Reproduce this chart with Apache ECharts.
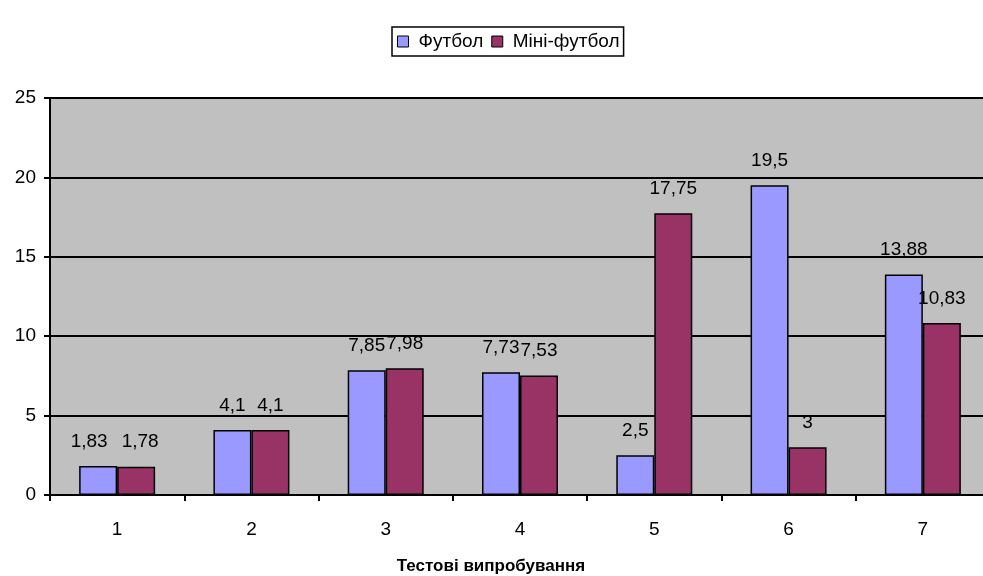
<!DOCTYPE html>
<html>
<head>
<meta charset="utf-8">
<script src="https://cdn.jsdelivr.net/npm/echarts@6/dist/echarts.min.js"></script>
<style>
html, body { margin: 0; padding: 0; background: #fff; }
#main { width: 983px; height: 576px; }
</style>
</head>
<body>
<div id="main"></div>
<script>
var categories = ['1', '2', '3', '4', '5', '6', '7']
var futbol = [1.83, 4.1, 7.85, 7.73, 2.5, 19.5, 13.88]
var miniFutbol = [1.78, 4.1, 7.98, 7.53, 17.75, 3, 10.83]
var yTicks = [0, 5, 10, 15, 20, 25]

var font = '"Liberation Sans", Arial, sans-serif'
var chart = echarts.init(document.getElementById('main'))

function fmt(v) {
    return String(v).replace('.', ',')
}

function labelCfg() {
    return {
        show: true,
        position: 'top',
        distance: 15,
        color: '#000',
        fontFamily: font,
        fontSize: 19,
        formatter: function(p) { return fmt(p.value) }
    }
}

var option = {
    animation: false,
    backgroundColor: '#fff',
    legend: {
        left: 392,
        top: 27,
        padding: [5, 4, 5, 5],
        borderColor: '#000',
        borderWidth: 1.5,
        itemWidth: 11,
        itemHeight: 11,
        itemGap: 8,
        icon: 'rect',
        itemStyle: { borderColor: '#000', borderWidth: 1 },
        textStyle: {
            fontFamily: font, fontSize: 19, color: '#000',
            rich: {
                a: { fontFamily: font, fontSize: 19, width: 84, padding: [0, 0, 0, 5] },
                b: { fontFamily: font, fontSize: 19, width: 132, padding: [0, 0, 0, 5] }
            }
        },
        formatter: function(name) {
            return name === 'Футбол' ? '{a|' + name + '}' : '{b|' + name + '}'
        },
        data: ['Футбол', 'Міні-футбол']
    },
    grid: {
        left: 50,
        width: 940,
        top: 98,
        height: 397,
        outerBoundsMode: 'none',
        containLabel: false,
        show: true,
        backgroundColor: '#c0c0c0',
        borderColor: '#808080',
        borderWidth: 2
    },
    xAxis: {
        type: 'category',
        data: categories,
        name: 'Тестові випробування',
        nameLocation: 'middle',
        nameGap: 63,
        nameTextStyle: { fontFamily: font, fontSize: 17, fontWeight: 'bold', color: '#000', padding: [0, 58, 0, 0] },
        axisLine: { lineStyle: { color: '#000', width: 2 } },
        axisTick: { show: true, length: 6, lineStyle: { color: '#000', width: 2 } },
        axisLabel: { fontFamily: font, fontSize: 19, color: '#000', margin: 25 }
    },
    yAxis: {
        type: 'value',
        min: yTicks[0],
        max: yTicks[yTicks.length - 1],
        interval: 5,
        axisLine: { show: true, lineStyle: { color: '#000', width: 2 } },
        axisTick: { show: true, length: 6, lineStyle: { color: '#000', width: 2 } },
        axisLabel: { fontFamily: font, fontSize: 19, color: '#000', margin: 14 },
        splitLine: { show: true, lineStyle: { color: '#000', width: 2 } }
    },
    series: [
        {
            name: 'Футбол',
            type: 'bar',
            barWidth: 38,
            barGap: '0%',
            itemStyle: { color: '#9999ff', borderColor: '#000', borderWidth: 1.5 },
            label: labelCfg(),
            data: futbol.map(function(v, i) {
                return i === 0 ? { value: v, label: { offset: [-9, 0] } } : v
            })
        },
        {
            name: 'Міні-футбол',
            type: 'bar',
            barWidth: 38,
            barGap: '0%',
            itemStyle: { color: '#993366', borderColor: '#000', borderWidth: 1.5 },
            label: labelCfg(),
            data: miniFutbol.map(function(v, i) {
                return i === 0 ? { value: v, label: { offset: [4, 0] } } : v
            })
        }
    ]
}
chart.setOption(option)
</script>
</body>
</html>
